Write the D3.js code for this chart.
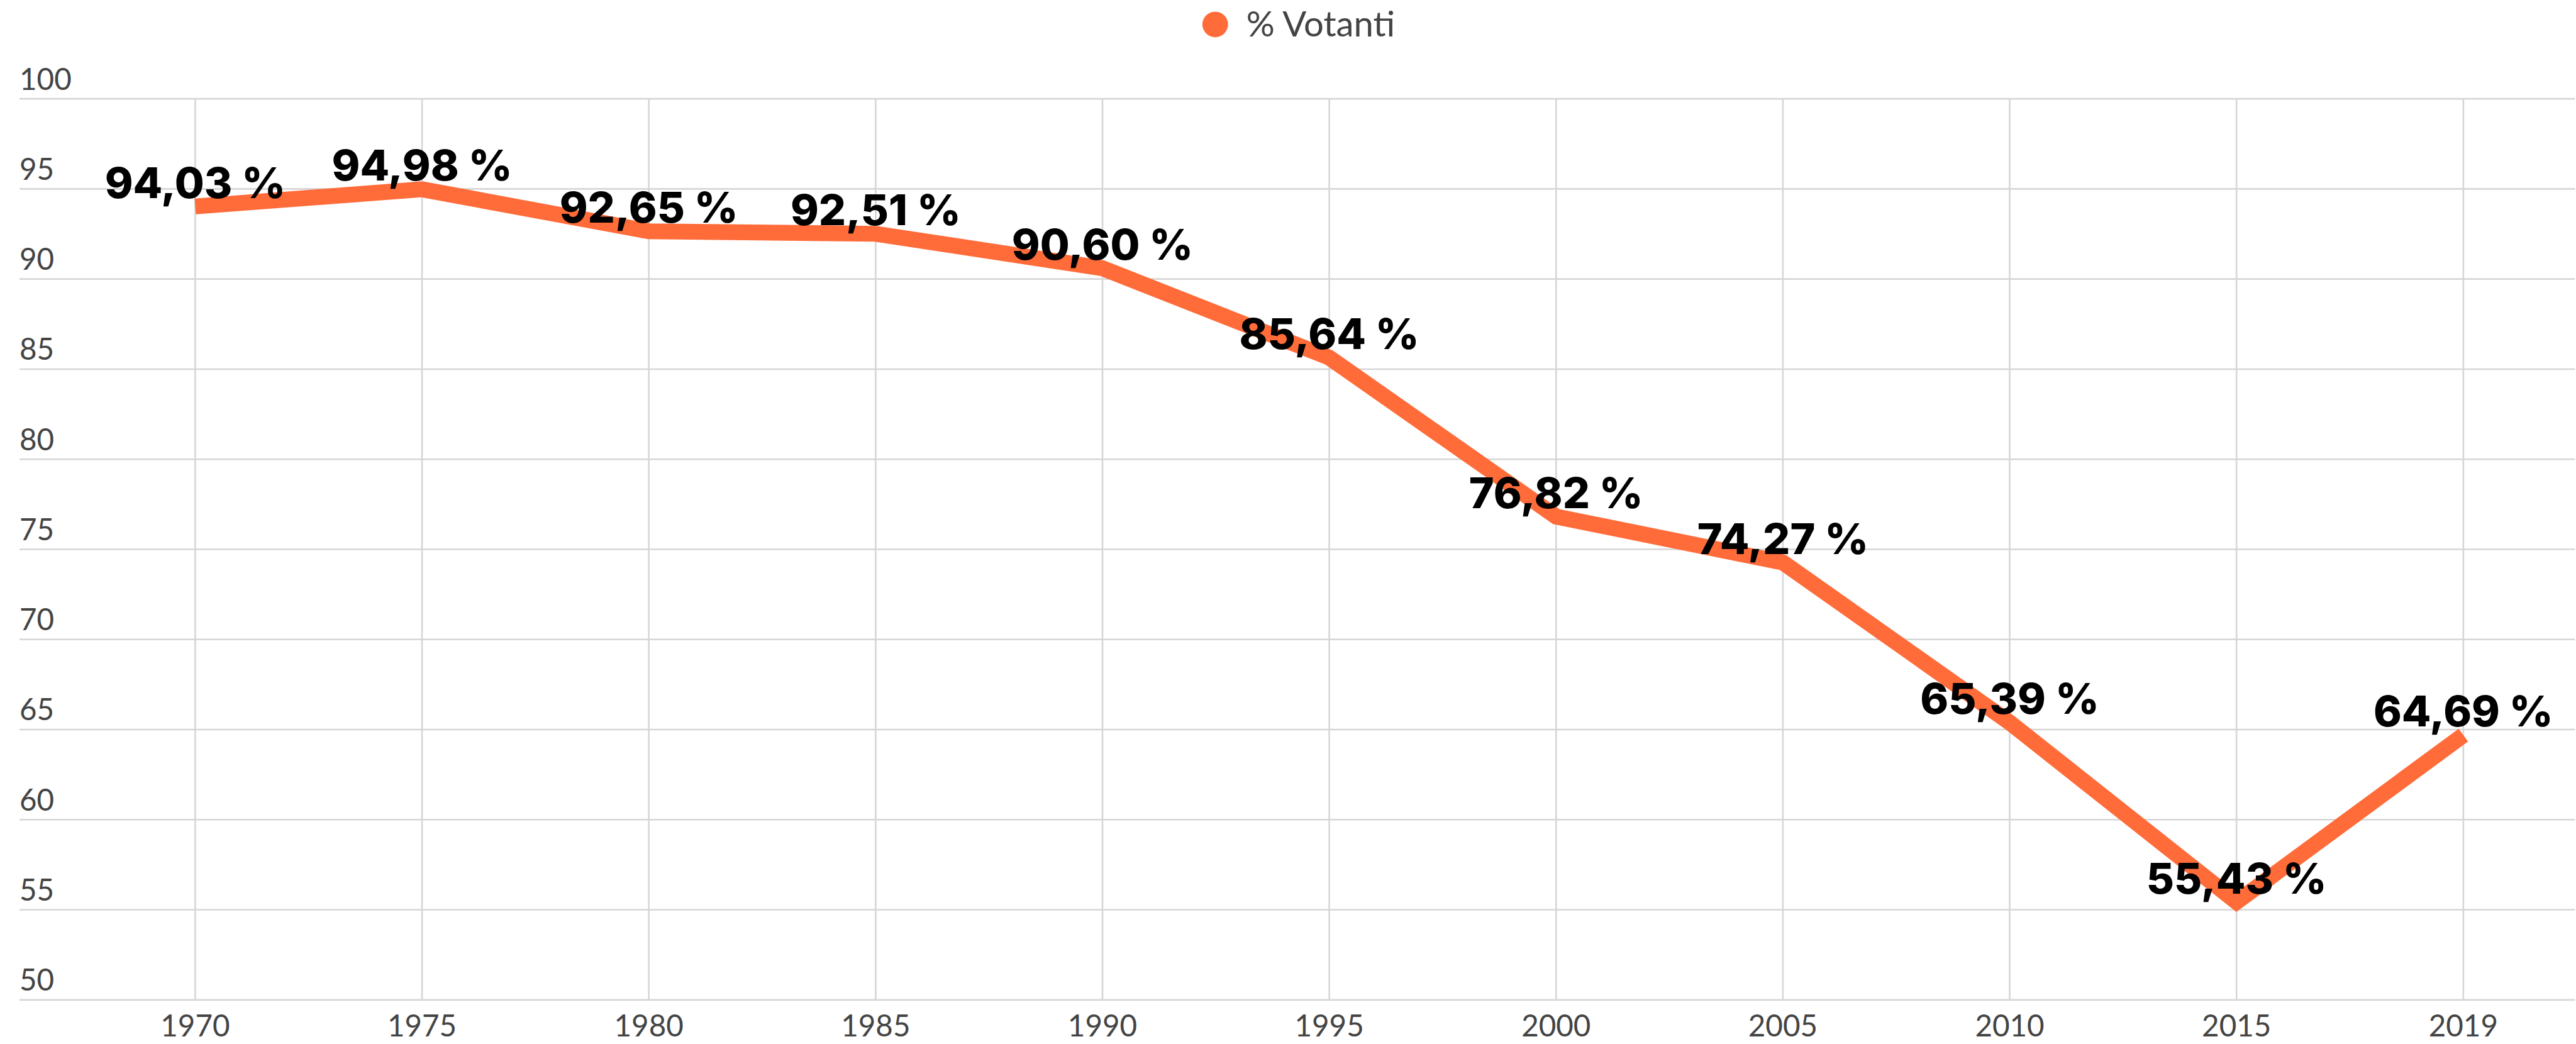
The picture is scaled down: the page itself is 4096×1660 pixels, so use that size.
<!DOCTYPE html>
<html>
<head>
<meta charset="utf-8">
<script src="https://cdn.jsdelivr.net/npm/d3@7"></script>
<style>
  html, body { margin: 0; padding: 0; background: #fff; }
  svg { display: block; }
</style>
</head>
<body>
<div id="chart"></div>
<script>
// data
const years = ['1970', '1975', '1980', '1985', '1990', '1995', '2000', '2005', '2010', '2015', '2019'];
const votanti = [94.03, 94.98, 92.65, 92.51, 90.60, 85.64, 76.82, 74.27, 65.39, 55.43, 64.69];
const seriesName = '% Votanti';
const yDomain = [50, 100];

const S = 0.97; // scale vs reference
const W = 4096, H = 1660;

const svg = d3.select('#chart')
    .append('svg')
    .attr('width', W)
    .attr('height', H);

const g = svg.append('g').attr('transform', `scale(${S})`);

// layout in reference pixels
const plotLeft = 32, plotRight = 4221;
const x = d3.scalePoint().domain(years).range([320, 4038]);
const y = d3.scaleLinear().domain(yDomain).range([1639, 162]);

const gridColor = '#d6d6d6';
const labelFont = 'Lato, "Open Sans", sans-serif';
const labelColor = '#444';

// horizontal grid + y labels
const yTicks = y.ticks(10);
g.append('g')
    .selectAll('line')
    .data(yTicks)
    .join('line')
    .attr('x1', plotLeft)
    .attr('x2', plotRight)
    .attr('y1', d => y(d))
    .attr('y2', d => y(d))
    .attr('stroke', gridColor)
    .attr('stroke-width', 2.7);

g.append('g')
    .selectAll('text')
    .data(yTicks)
    .join('text')
    .attr('x', plotLeft)
    .attr('y', d => y(d) - 15)
    .text(d => d)
    .attr('font-family', labelFont)
    .attr('font-weight', 400)
    .attr('font-size', 49)
    .attr('fill', labelColor);

// vertical grid + x labels
g.append('g')
    .selectAll('line')
    .data(years)
    .join('line')
    .attr('x1', d => x(d))
    .attr('x2', d => x(d))
    .attr('y1', y(yDomain[1]))
    .attr('y2', y(yDomain[0]))
    .attr('stroke', gridColor)
    .attr('stroke-width', 2.7);

g.append('g')
    .selectAll('text')
    .data(years)
    .join('text')
    .attr('x', d => x(d))
    .attr('y', 1699)
    .attr('text-anchor', 'middle')
    .text(d => d)
    .attr('font-family', labelFont)
    .attr('font-weight', 400)
    .attr('font-size', 49)
    .attr('fill', labelColor);

// line
const points = years.map((yr, i) => ({ year: yr, value: votanti[i] }));
const line = d3.line()
    .x(d => x(d.year))
    .y(d => y(d.value));

g.append('path')
    .datum(points)
    .attr('d', line)
    .attr('fill', 'none')
    .attr('stroke', '#ff6b39')
    .attr('stroke-width', 26)
    .attr('stroke-linejoin', 'miter')
    .attr('stroke-linecap', 'butt');

// value labels
const fmt = v => v.toFixed(2).replace('.', ',') + ' %';
g.append('g')
    .selectAll('text')
    .data(points)
    .join('text')
    .attr('x', d => x(d.year))
    .attr('y', d => y(d.value) - 14)
    .attr('text-anchor', 'middle')
    .text(d => fmt(d.value))
    .attr('font-family', 'Inter, "Noto Sans", sans-serif')
    .attr('font-weight', 800)
    .attr('font-size', 70)
    .attr('fill', '#000');

// legend
const legend = g.append('g');
legend.append('circle')
    .attr('cx', 1992)
    .attr('cy', 40)
    .attr('r', 21)
    .attr('fill', '#ff6b39');
legend.append('text')
    .attr('x', 2043)
    .attr('y', 60)
    .text(seriesName)
    .attr('font-family', labelFont)
    .attr('font-weight', 400)
    .attr('font-size', 58)
    .attr('fill', labelColor);
</script>
</body>
</html>
